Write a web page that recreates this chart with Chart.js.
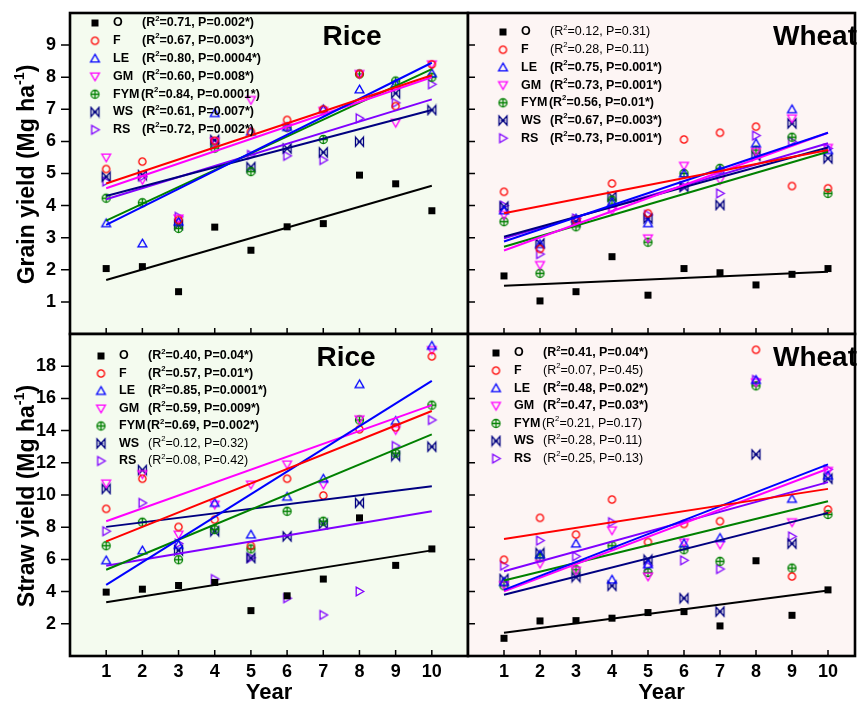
<!DOCTYPE html>
<html lang="en">
<head>
<meta charset="UTF-8">
<title>Grain and straw yield trends, rice and wheat</title>
<script src="https://cdn.jsdelivr.net/npm/chart.js"></script>
<style>
    body { margin: 0; background: #fff; }
    .figure { position: relative; width: 861px; height: 706px; overflow: hidden; }
    .figure canvas { position: absolute; left: 0; top: 0; }
</style>
</head>
<body>
<div class="figure">
    <canvas id="riceGrainChart" width="861" height="706"></canvas>
    <canvas id="wheatGrainChart" width="861" height="706"></canvas>
    <canvas id="riceStrawChart" width="861" height="706"></canvas>
    <canvas id="wheatStrawChart" width="861" height="706"></canvas>
</div>
<script>
// ---- data ----
const years = [1, 2, 3, 4, 5, 6, 7, 8, 9, 10];
const treatments = ['O', 'F', 'LE', 'GM', 'FYM', 'WS', 'RS'];
const grainTicks = [1, 2, 3, 4, 5, 6, 7, 8, 9];
const strawTicks = [2, 4, 6, 8, 10, 12, 14, 16, 18];

// Rice grain yield (Mg/ha), one row per treatment
const riceGrain = [
    [2.04, 2.10, 1.32, 3.33, 2.61, 3.34, 3.44, 4.95, 4.68, 3.84],
    [5.14, 5.37, 3.55, 6.02, 6.30, 6.67, 7.00, 8.10, 7.10, 8.40],
    [3.45, 2.82, 3.50, 6.88, 6.30, 6.45, 7.00, 7.62, 7.80, 8.12],
    [5.50, 4.80, 3.60, 6.00, 7.29, 6.45, 6.95, 8.10, 6.58, 8.40],
    [4.23, 4.09, 3.29, 5.79, 5.06, 6.43, 6.06, 8.10, 7.88, 8.00],
    [4.90, 4.95, 3.40, 6.04, 5.20, 5.78, 5.66, 5.99, 7.50, 6.98],
    [4.75, 4.90, 3.65, 5.95, 5.58, 5.55, 5.42, 6.72, 7.20, 7.78]
];
// fitted line value at year 1 and year 10
const riceGrainFit = [[1.68, 4.62], [4.69, 8.06], [3.40, 8.45], [4.54, 8.00], [3.53, 8.25], [4.30, 6.98], [4.20, 7.31]];
const riceGrainR2 = ['0.71', '0.67', '0.80', '0.60', '0.84', '0.61', '0.72'];
const riceGrainP = ['0.002*', '0.003*', '0.0004*', '0.008*', '0.0001*', '0.007*', '0.002*'];

// Wheat grain yield
const wheatGrain = [
    [1.81, 1.03, 1.32, 2.41, 1.21, 2.04, 1.91, 1.53, 1.86, 2.04],
    [4.43, 2.65, 3.55, 4.69, 3.76, 6.06, 6.27, 6.46, 4.61, 4.54],
    [3.85, 2.80, 3.60, 4.10, 3.45, 5.00, 5.10, 5.94, 7.00, 5.73],
    [3.71, 2.15, 3.50, 3.85, 2.98, 5.24, 4.80, 5.68, 6.72, 5.80],
    [3.50, 1.89, 3.34, 4.17, 2.86, 5.00, 5.16, 5.73, 6.13, 4.38],
    [3.97, 2.82, 3.50, 4.28, 3.60, 4.58, 4.02, 5.55, 6.56, 5.47],
    [4.00, 2.49, 3.60, 3.91, 3.71, 4.60, 4.38, 6.18, 6.00, 5.78]
];
const wheatGrainFit = [[1.50, 1.94], [3.76, 5.73], [2.88, 6.27], [2.60, 6.27], [2.72, 5.68], [3.03, 5.81], [2.98, 5.94]];
const wheatGrainR2 = ['0.12', '0.28', '0.75', '0.73', '0.56', '0.67', '0.73'];
const wheatGrainP = ['0.31', '0.11', '0.001*', '0.001*', '0.01*', '0.003*', '0.001*'];

// Rice straw yield
const riceStraw = [
    [3.97, 4.15, 4.38, 4.57, 2.82, 3.74, 4.78, 8.58, 5.63, 6.65],
    [9.14, 11.01, 8.02, 8.47, 6.85, 11.01, 9.97, 14.08, 14.20, 18.61],
    [5.94, 6.56, 6.90, 9.51, 7.54, 9.89, 11.01, 16.88, 14.60, 19.27],
    [10.72, 11.30, 7.54, 9.40, 10.65, 11.90, 10.65, 14.70, 14.04, 19.00],
    [6.85, 8.31, 5.98, 7.85, 6.65, 8.99, 8.37, 14.66, 12.60, 15.58],
    [10.38, 11.55, 6.56, 7.75, 6.09, 7.43, 8.20, 9.51, 12.42, 13.00],
    [7.75, 9.51, 6.98, 4.78, 6.10, 3.59, 2.55, 4.01, 13.04, 14.66]
];
const riceStrawFit = [[3.34, 6.56], [7.12, 15.22], [4.42, 17.09], [8.37, 15.58], [5.36, 13.77], [8.02, 10.55], [5.61, 8.99]];
const riceStrawR2 = ['0.40', '0.57', '0.85', '0.59', '0.69', '0.12', '0.08'];
const riceStrawP = ['0.04*', '0.01*', '0.0001*', '0.009*', '0.002*', '0.32', '0.42'];

// Wheat straw yield
const wheatStraw = [
    [1.10, 2.18, 2.20, 2.35, 2.70, 2.76, 1.87, 5.92, 2.53, 4.11],
    [5.98, 8.58, 7.54, 9.72, 7.08, 8.20, 8.37, 19.02, 4.94, 9.10],
    [4.60, 6.30, 6.98, 4.74, 5.70, 6.98, 7.33, 17.15, 9.76, 11.20],
    [4.40, 5.73, 5.30, 7.81, 4.94, 7.06, 6.92, 17.00, 8.31, 11.50],
    [4.36, 6.10, 5.36, 6.85, 5.19, 6.60, 5.88, 16.78, 5.46, 8.79],
    [4.78, 6.40, 4.90, 4.36, 5.98, 3.59, 2.76, 12.52, 6.98, 11.01],
    [5.61, 7.17, 6.19, 8.31, 5.60, 5.94, 5.40, 17.15, 7.43, 11.59]
];
const wheatStrawFit = [[1.45, 4.07], [7.27, 10.38], [4.11, 11.90], [4.01, 11.63], [4.69, 9.61], [3.80, 8.89], [5.26, 10.80]];
const wheatStrawR2 = ['0.41', '0.07', '0.48', '0.47', '0.21', '0.28', '0.25'];
const wheatStrawP = ['0.04*', '0.45', '0.02*', '0.03*', '0.17', '0.11', '0.13'];

// ---- styles ----
const FONT = '"Liberation Sans", Arial, sans-serif';
Chart.defaults.font.family = FONT;
Chart.defaults.color = '#000';

const colors = ['#000000', '#ff0000', '#0000ff', '#ff00ff', '#008000', '#000080', '#8000ff'];
const markerKinds = ['square', 'circle', 'up', 'down', 'crossCircle', 'bowtie', 'right'];

// little marker images, used for both the points and the legend
function makeMarker(kind, color) {
    const c = document.createElement('canvas');
    c.width = 13; c.height = 13;
    const g = c.getContext('2d');
    g.translate(6.5, 6.5);
    g.strokeStyle = color;
    g.fillStyle = color;
    g.lineWidth = 1.3;
    g.beginPath();
    if (kind === 'square') {
        g.fillRect(-3.5, -3.5, 7, 7);
        return c;
    } else if (kind === 'circle') {
        g.arc(0, 0, 3.6, 0, Math.PI * 2);
    } else if (kind === 'up') {
        g.moveTo(0, -4.3); g.lineTo(4.4, 3.3); g.lineTo(-4.4, 3.3); g.closePath();
    } else if (kind === 'down') {
        g.moveTo(0, 4.3); g.lineTo(4.4, -3.3); g.lineTo(-4.4, -3.3); g.closePath();
    } else if (kind === 'right') {
        g.moveTo(4.3, 0); g.lineTo(-3.3, 4.4); g.lineTo(-3.3, -4.4); g.closePath();
    } else if (kind === 'crossCircle') {
        g.arc(0, 0, 4, 0, Math.PI * 2);
        g.moveTo(-4, 0); g.lineTo(4, 0);
        g.moveTo(0, -4); g.lineTo(0, 4);
    } else if (kind === 'bowtie') {
        g.moveTo(-4, -4.5); g.lineTo(4, 4.5); g.lineTo(4, -4.5); g.lineTo(-4, 4.5); g.closePath();
        g.moveTo(-2, 0); g.lineTo(2, 0);
    }
    g.stroke();
    return c;
}
const markers = markerKinds.map((k, i) => makeMarker(k, colors[i]));

// text with superscripts: parts = [[text, isSup], ...]
function drawRich(ctx, parts, x, y, size, weight, align) {
    const fontFor = sup => weight + ' ' + (sup ? size * 0.62 : size) + 'px ' + FONT;
    let w = 0;
    parts.forEach(([t, sup]) => { ctx.font = fontFor(sup); w += ctx.measureText(t).width; });
    let cx = align === 'center' ? x - w / 2 : x;
    ctx.textAlign = 'left';
    ctx.textBaseline = 'middle';
    parts.forEach(([t, sup]) => {
        ctx.font = fontFor(sup);
        ctx.fillText(t, cx, sup ? y - size * 0.36 : y);
        cx += ctx.measureText(t).width;
    });
}

// background, frame, inner ticks, title, legend and y title of one panel
const panelDecor = {
    id: 'panelDecor',
    beforeDraw(chart, args, o) {
        const a = chart.chartArea;
        const ctx = chart.ctx;
        ctx.save();
        ctx.fillStyle = o.bg;
        ctx.fillRect(a.left, a.top, a.right - a.left, a.bottom - a.top);
        ctx.restore();
    },
    afterDraw(chart, args, o) {
        const ctx = chart.ctx;
        const a = chart.chartArea;
        const xs = chart.scales.x, ys = chart.scales.y;
        ctx.save();

        ctx.strokeStyle = '#000';
        ctx.lineWidth = 1.5;
        ctx.beginPath();
        o.yTicks.forEach(v => {
            const py = ys.getPixelForValue(v);
            if (o.outerY) { ctx.moveTo(a.left - 9, py); ctx.lineTo(a.left, py); }
            else { ctx.moveTo(a.left, py); ctx.lineTo(a.left + 7, py); }
        });
        years.forEach(v => {
            const px = xs.getPixelForValue(v);
            ctx.moveTo(px, a.bottom); ctx.lineTo(px, a.bottom - 6);
        });
        ctx.stroke();

        ctx.lineWidth = 2.6;
        ctx.strokeRect(a.left, a.top, a.right - a.left, a.bottom - a.top);

        ctx.fillStyle = '#000';
        ctx.font = 'bold 28px ' + FONT;
        ctx.textAlign = 'center';
        ctx.textBaseline = 'middle';
        ctx.fillText(o.title, o.titleX, o.titleY);

        treatments.forEach((name, i) => {
            const ry = o.legendY + i * o.legendGap;
            ctx.drawImage(markers[i], o.legendX - 6.5, ry - 6.5);
            const lx = o.legendX + 18;
            ctx.font = 'bold 12.5px ' + FONT;
            ctx.textAlign = 'left';
            ctx.fillStyle = '#000';
            ctx.fillText(name, lx, ry);
            const sx = name === 'FYM' ? lx + ctx.measureText(name).width + 1.5 : lx + 29;
            const weight = o.p[i].includes('*') ? 'bold' : 'normal';
            drawRich(ctx, [['(R'], ['2', true], ['=' + o.r2[i] + ', P=' + o.p[i] + ')']], sx, ry, 12.5, weight, 'left');
        });

        if (o.yTitle) {
            ctx.translate(o.yTitleX, (a.top + a.bottom) / 2 + o.yTitleShift);
            ctx.rotate(-Math.PI / 2);
            drawRich(ctx, [[o.yTitle + ' (Mg ha'], ['-1', true], [')']], 0, 0, 23, 'bold', 'center');
        }
        ctx.restore();
    }
};

const panels = [
    { id: 'riceGrainChart', rows: riceGrain, fit: riceGrainFit, r2: riceGrainR2, p: riceGrainP,
      yMax: 10, yTicks: grainTicks, xMax: 11, leftSide: true, bottomRow: false,
      padding: { left: 0, right: 393, top: 13, bottom: 372 },
      bg: '#f4fbef', title: 'Rice', titleX: 352, titleY: 37,
      legendX: 95, legendY: 23, legendGap: 17.8, yTitle: 'Grain yield' },
    { id: 'wheatGrainChart', rows: wheatGrain, fit: wheatGrainFit, r2: wheatGrainR2, p: wheatGrainP,
      yMax: 10, yTicks: grainTicks, xMax: 10.75, leftSide: false, bottomRow: false,
      padding: { left: 468, right: 3, top: 13, bottom: 372 },
      bg: '#fdf5f4', title: 'Wheat', titleX: 815, titleY: 37,
      legendX: 503, legendY: 32, legendGap: 17.7, yTitle: null },
    { id: 'riceStrawChart', rows: riceStraw, fit: riceStrawFit, r2: riceStrawR2, p: riceStrawP,
      yMax: 20, yTicks: strawTicks, xMax: 11, leftSide: true, bottomRow: true,
      padding: { left: 0, right: 393, top: 334, bottom: 0 },
      bg: '#f4fbef', title: 'Rice', titleX: 346, titleY: 358,
      legendX: 101, legendY: 356, legendGap: 17.5, yTitle: 'Straw yield' },
    { id: 'wheatStrawChart', rows: wheatStraw, fit: wheatStrawFit, r2: wheatStrawR2, p: wheatStrawP,
      yMax: 20, yTicks: strawTicks, xMax: 10.75, leftSide: false, bottomRow: true,
      padding: { left: 468, right: 3, top: 334, bottom: 0 },
      bg: '#fdf5f4', title: 'Wheat', titleX: 815, titleY: 358,
      legendX: 496, legendY: 353, legendGap: 17.6, yTitle: null }
];

panels.forEach(pn => {
    const datasets = [];
    treatments.forEach((name, i) => {
        datasets.push({
            label: name + ' fit',
            data: [{ x: years[0], y: pn.fit[i][0] }, { x: years[years.length - 1], y: pn.fit[i][1] }],
            showLine: true,
            borderColor: colors[i],
            borderWidth: 2,
            pointRadius: 0,
            order: 0
        });
        datasets.push({
            label: name,
            data: years.map((yr, j) => ({ x: yr, y: pn.rows[i][j] })),
            showLine: false,
            pointStyle: markers[i],
            pointRadius: 5,
            order: 1
        });
    });

    new Chart(document.getElementById(pn.id), {
        type: 'scatter',
        data: { datasets: datasets },
        options: {
            responsive: false,
            animation: false,
            events: [],
            layout: { padding: pn.padding },
            plugins: {
                legend: { display: false },
                tooltip: { enabled: false },
                panelDecor: {
                    bg: pn.bg, yTicks: pn.yTicks, outerY: pn.leftSide,
                    title: pn.title, titleX: pn.titleX, titleY: pn.titleY,
                    legendX: pn.legendX, legendY: pn.legendY, legendGap: pn.legendGap,
                    r2: pn.r2, p: pn.p,
                    yTitle: pn.yTitle, yTitleX: 28, yTitleShift: 1
                }
            },
            scales: {
                x: {
                    type: 'linear',
                    min: 0,
                    max: pn.xMax,
                    display: pn.bottomRow,
                    afterBuildTicks: s => { s.ticks = years.map(v => ({ value: v })); },
                    afterFit: s => { s.height = pn.bottomRow ? 50 : 0; s.paddingLeft = 0; s.paddingRight = 0; },
                    grid: { display: false, drawTicks: false },
                    border: { display: false },
                    ticks: { font: { size: 18, weight: 'bold' }, color: '#000', padding: 5, autoSkip: false, maxRotation: 0 },
                    title: { display: true, text: 'Year', font: { size: 22, weight: 'bold', lineHeight: 1 }, color: '#000', padding: { top: 0, bottom: 2 } }
                },
                y: {
                    type: 'linear',
                    min: 0,
                    max: pn.yMax,
                    display: pn.leftSide,
                    afterBuildTicks: s => { s.ticks = pn.yTicks.map(v => ({ value: v })); },
                    afterFit: s => { s.width = pn.leftSide ? 70 : 0; s.paddingTop = 0; s.paddingBottom = 0; },
                    grid: { display: false, drawTicks: false },
                    border: { display: false },
                    ticks: { font: { size: 18, weight: 'bold' }, color: '#000', padding: 14 }
                }
            }
        },
        plugins: [panelDecor]
    });
});
</script>
</body>
</html>
